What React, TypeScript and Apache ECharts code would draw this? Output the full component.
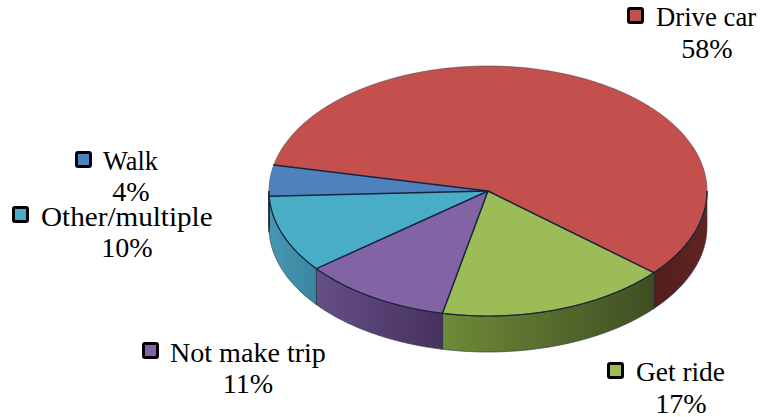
import React, { useEffect, useRef } from "react";
import * as echarts from "echarts";

const categories = ["Drive car", "Get ride", "Not make trip", "Other/multiple", "Walk"];
const shares = [58, 17, 11, 10, 4];
const topColors = ["#c4504d", "#9cbc58", "#8264a5", "#4aadc8", "#4f81bd"];
const sideLeft = ["#521e1d", "#6f8a38", "#654e85", "#4697b0", "#3f6a9e"];
const sideRight = ["#5e2523", "#3f4e22", "#46325f", "#3a86a0", "#2c4f78"];
const startAngle = 192;
const labelFont = "Liberation Serif";
const fontSize = 27;
const shareStretch = 1.04;

// Legend swatch and label anchors for each slice
const swatchX = [627, 607, 142, 12, 75];
const swatchY = [7, 362, 342, 206, 151];
const nameX = [656, 636, 170, 41, 103];
const nameY = [25, 380, 361, 225, 169];
const nameStretch = [0.99, 1.015, 1.04, 1.08, 0.975];
const shareX = [707, 681, 248, 127, 131];
const shareY = [57, 412, 392, 256, 200];

const CX = 488;
const CY = 191;
const RX = 219;
const RY = 125;
const DEPTH = 36;
const SPOKE = "#16233c";
const RIM = "#3a3f48";

const point = (deg: number, drop = 0): [number, number] => [
  CX + RX * Math.cos((deg * Math.PI) / 180),
  CY + RY * Math.sin((deg * Math.PI) / 180) + drop,
];

function sliceRange(index: number) {
  let from = startAngle;
  for (let i = 0; i < index; i++) from += (shares[i] / 100) * 360;
  return [from, from + (shares[index] / 100) * 360];
}

// Portion of a slice's outer wall that faces the viewer (screen angles 0..180)
function visibleWall(from: number, to: number): [number, number] | null {
  for (const shift of [0, 360, -360]) {
    const a = Math.max(from, shift);
    const b = Math.min(to, 180 + shift);
    if (a < b) return [a, b];
  }
  return null;
}

function arcPoints(from: number, to: number, drop = 0) {
  const n = Math.max(2, Math.ceil(Math.abs(to - from) * 2));
  const pts: [number, number][] = [];
  for (let i = 0; i <= n; i++) pts.push(point(from + ((to - from) * i) / n, drop));
  return pts;
}

function renderSlice(_: any, api: any) {
  const index = api.value(0) as number;
  const [from, to] = sliceRange(index);
  const children: any[] = [];
  const wall = visibleWall(from, to);
  if (wall) {
    const [a, b] = wall;
    children.push({
      type: "polygon",
      shape: { points: [...arcPoints(a, b), ...arcPoints(b, a, DEPTH)] },
      style: {
        fill: new echarts.graphic.LinearGradient(0, 0, 1, 0, [
          { offset: 0, color: sideLeft[index] },
          { offset: 1, color: sideRight[index] },
        ]),
        stroke: RIM,
        lineWidth: 0.7,
        lineJoin: "round",
      },
    });
    // seams where neighbouring walls meet
    children.push({
      type: "polyline",
      shape: { points: [point(b), point(b, DEPTH)] },
      style: { fill: "none", stroke: SPOKE, lineWidth: 1.2 },
    });
  }
  children.push({
    type: "polygon",
    shape: { points: [[CX, CY], ...arcPoints(from, to)] },
    style: { fill: topColors[index], stroke: "none" },
  });
  // soft outline on the rear rim
  children.push({
    type: "polyline",
    shape: { points: arcPoints(from, to) },
    style: { fill: "none", stroke: RIM, lineWidth: 0.7, opacity: 0.75 },
  });
  // crisp front rim, where the top meets the wall
  if (wall) {
    children.push({
      type: "polyline",
      shape: { points: arcPoints(wall[0], wall[1]) },
      style: { fill: "none", stroke: SPOKE, lineWidth: 1.2 },
    });
  }
  return { type: "group", children };
}

// Spokes sit above all the slice faces
function renderSpoke(_: any, api: any) {
  const index = api.value(0) as number;
  const [from] = sliceRange(index);
  return {
    type: "polyline",
    shape: { points: [[CX, CY], point(from)] },
    style: { fill: "none", stroke: SPOKE, lineWidth: 1.5, lineCap: "round" },
  };
}

function label(text: string, x: number, baseline: number, textAlign: string, stretch: number) {
  return {
    type: "text",
    x,
    y: baseline - fontSize * 0.3,
    scaleX: stretch,
    style: {
      text,
      font: `${fontSize}px "${labelFont}"`,
      fill: "#000000",
      textAlign,
      verticalAlign: "middle",
    },
  };
}

export default function App() {
  const ref = useRef<HTMLDivElement>(null);
  useEffect(() => {
    const chart = echarts.init(ref.current!, undefined, { renderer: "svg" });
    const legend: any[] = [];
    categories.forEach((name, i) => {
      legend.push({
        type: "rect",
        shape: { x: swatchX[i] + 1.5, y: swatchY[i] + 1.5, width: 14, height: 14, r: 1.5 },
        style: { fill: topColors[i], stroke: "#000000", lineWidth: 3 },
      });
      legend.push(label(name, nameX[i], nameY[i], "left", nameStretch[i]));
      legend.push(label(`${shares[i]}%`, shareX[i], shareY[i], "center", shareStretch));
    });
    const rows = shares.map((v, i) => [i, v]);
    chart.setOption({
      animation: false,
      backgroundColor: "#ffffff",
      series: [
        { type: "custom", coordinateSystem: "none", renderItem: renderSlice, data: rows, silent: true },
        { type: "custom", coordinateSystem: "none", renderItem: renderSpoke, data: rows, silent: true },
      ],
      graphic: legend,
    });
    return () => chart.dispose();
  }, []);
  return <div ref={ref} style={{ position: "fixed", left: 0, top: 0, width: 760, height: 417 }} />;
}
